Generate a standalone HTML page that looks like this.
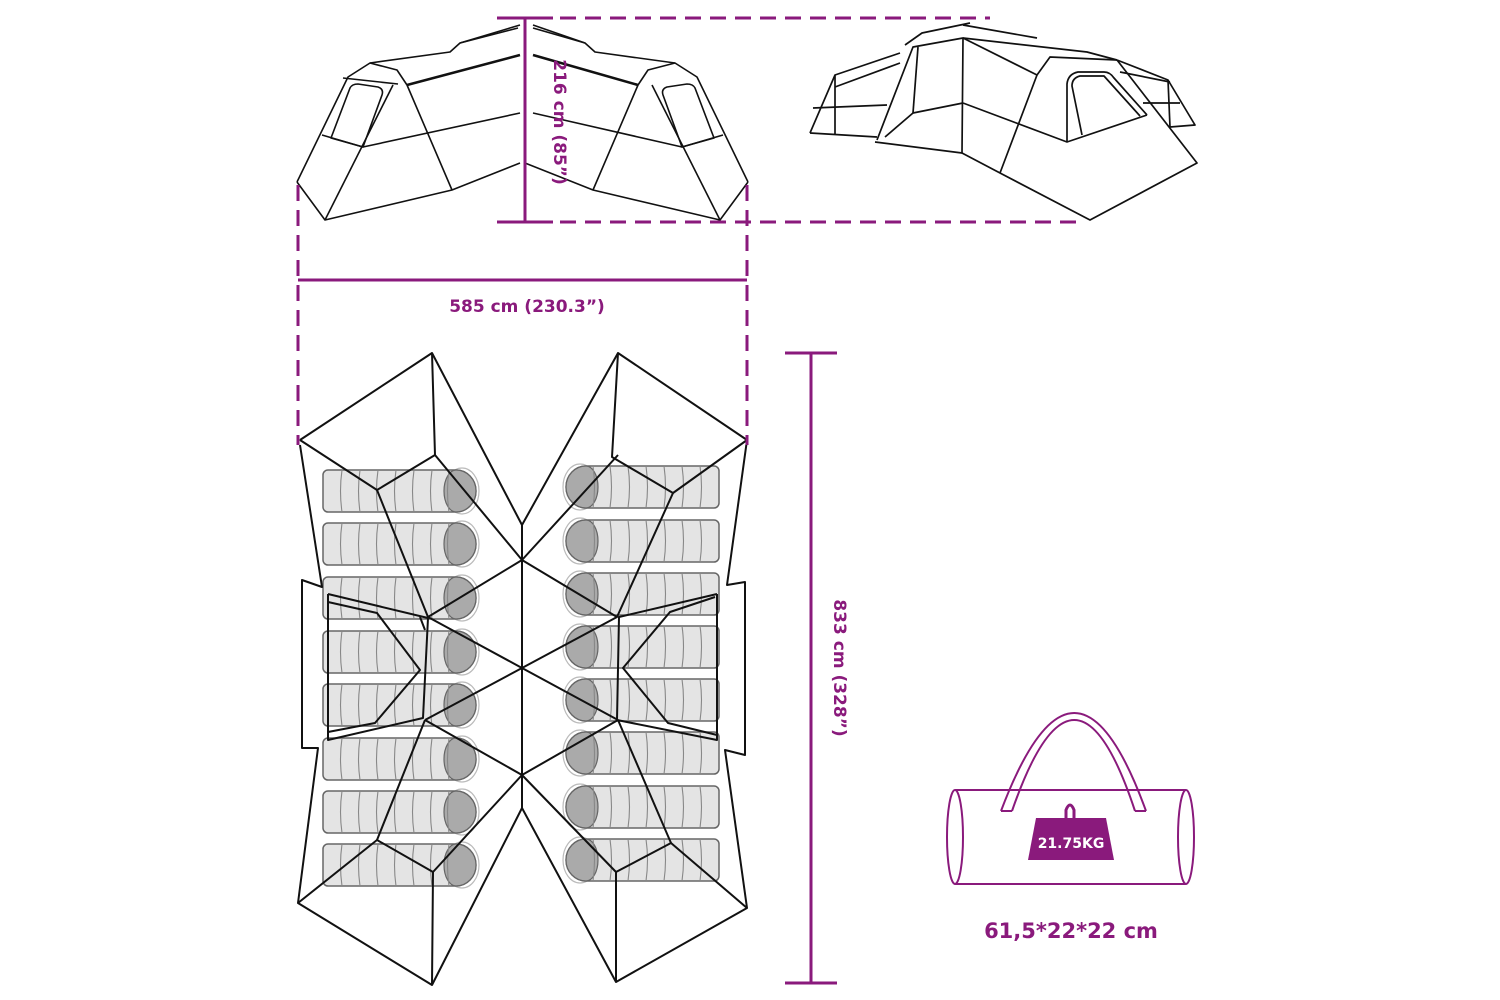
<!DOCTYPE html>
<html><head><meta charset="utf-8"><style>
html,body{margin:0;padding:0;background:#fff;}
svg{display:block;}
.t{font-family:"DejaVu Sans","Liberation Sans",sans-serif;font-weight:bold;fill:#8a1a7c;}
</style></head><body>
<svg width="1500" height="1000" viewBox="0 0 1500 1000" xmlns="http://www.w3.org/2000/svg">
<defs>
<g id="bag">
 <ellipse cx="140" cy="22" rx="17" ry="23" fill="none" stroke="#bbb" stroke-width="1.2"/>
 <path d="M6 1 H134 A20 21 0 0 1 134 43 H6 A5 5 0 0 1 1 38 V6 A5 5 0 0 1 6 1Z" fill="#e4e4e4" stroke="#666" stroke-width="1.5"/>
 <path d="M134 1 A20 21 0 0 1 134 43 A12 21 0 0 1 134 1Z" fill="#aaa" stroke="#666" stroke-width="1.2"/>
 <g stroke="#888" stroke-width="1.1" fill="none">
  <path d="M20 1 Q17 22 20 43 M38 1 Q35 22 38 43 M56 1 Q53 22 56 43 M74 1 Q71 22 74 43 M92 1 Q89 22 92 43 M110 1 Q107 22 110 43 M127 1 Q124 22 127 43"/>
 </g>
</g>
</defs>

<g>
<use href="#bag" x="322" y="469"/><use href="#bag" x="322" y="522"/><use href="#bag" x="322" y="576"/><use href="#bag" x="322" y="630"/>
<use href="#bag" x="322" y="683"/><use href="#bag" x="322" y="737"/><use href="#bag" x="322" y="790"/><use href="#bag" x="322" y="843"/>
</g>
<g transform="translate(1283,0) scale(-1,1)">
<use href="#bag" x="563" y="465"/><use href="#bag" x="563" y="519"/><use href="#bag" x="563" y="572"/><use href="#bag" x="563" y="625"/>
<use href="#bag" x="563" y="678"/><use href="#bag" x="563" y="731"/><use href="#bag" x="563" y="785"/><use href="#bag" x="563" y="838"/>
</g>

<g fill="none" stroke="#111" stroke-width="2" stroke-linejoin="round">
 <polyline points="300,440 432,353 522,525 618,353 747,440"/>
 <polyline points="300,445 322,587 302,580 302,748 318,748 298,903 432,985 522,808 616,982 747,908 725,750 745,755 745,582 727,585 747,440"/>
 <line x1="522" y1="525" x2="522" y2="808"/>
 <polyline points="300,440 377,490 435,455 432,353"/>
 <polyline points="435,455 522,560 618,455"/>
 <polyline points="377,490 428,617 522,560 617,617 673,493"/>
 <polyline points="747,440 673,493 612,457 618,353"/>
 <polyline points="428,617 522,668 618,720"/>
 <polyline points="425,720 522,668 617,617"/>
 <polyline points="425,720 522,775 618,720"/>
 <polyline points="298,903 377,840 433,872 432,985"/>
 <polyline points="377,840 425,720"/>
 <polyline points="433,872 522,775 616,872 616,982"/>
 <polyline points="747,908 671,843 616,872"/>
 <polyline points="671,843 618,720"/>
 <polyline points="328,594 328,740 423,718 428,618 328,594"/>
 <polyline points="328,602 377,613 420,670 375,723 328,732"/>
 <line x1="420" y1="617" x2="425" y2="630"/>
 <polyline points="717,594 717,740 617,720 619,617 717,594"/>
 <polyline points="715,597 670,612 623,668 668,723 717,735"/>
</g>

<g fill="none" stroke="#111" stroke-width="1.6" stroke-linejoin="round">
 <g>
 <polyline points="297,182 325,220 452,190 520,163"/>
 <polyline points="297,182 348,77 370,63 397,70 407,85 452,190"/>
 <polyline points="370,63 450,52 460,43 520,25"/>
 <line x1="407" y1="85" x2="520" y2="55" stroke-width="2.6"/>
 <polyline points="393,85 325,220"/>
 <polyline points="322,135 363,147 520,113"/>
 <path d="M350 88 Q352 84 358 84 L378 87 Q384 89 382 95 L363 147 L331 138 Z"/>
 <line x1="343" y1="78" x2="398" y2="84"/>
 <line x1="460" y1="43" x2="518" y2="28"/>
 </g>
 <g transform="translate(1045,0) scale(-1,1)">
 <polyline points="297,182 325,220 452,190 520,163"/>
 <polyline points="297,182 348,77 370,63 397,70 407,85 452,190"/>
 <polyline points="370,63 450,52 460,43 512,25"/>
 <line x1="407" y1="85" x2="512" y2="55" stroke-width="2.6"/>
 <polyline points="393,85 325,220"/>
 <polyline points="322,135 363,147 512,113"/>
 <path d="M350 88 Q352 84 358 84 L378 87 Q384 89 382 95 L363 147 L331 138 Z"/>
 <line x1="460" y1="43" x2="512" y2="28"/>
 </g>
</g>

<g fill="none" stroke="#111" stroke-width="1.7" stroke-linejoin="round">
 <polyline points="810,133 835,75 900,53"/>
 <line x1="835" y1="75" x2="835" y2="135"/>
 <line x1="810" y1="133" x2="877" y2="137"/>
 <line x1="813" y1="108" x2="887" y2="105"/>
 <line x1="835" y1="87" x2="900" y2="63"/>
 <polyline points="875,142 962,153 963,38 913,47 877,140"/>
 <polyline points="885,137 913,113 963,103"/>
 <line x1="913" y1="113" x2="918" y2="47"/>
 <polyline points="963,25 1037,38"/>
 <polyline points="963,38 1087,52 1117,60"/>
 <polyline points="905,45 922,33 970,23"/>
 <polyline points="963,38 1037,75 1000,173"/>
 <polyline points="1037,75 1050,57 1117,60"/>
 <polyline points="963,103 1067,142 1147,115"/>
 <polyline points="962,153 1000,173 1090,220 1197,163 1117,60"/>
 <path d="M1067 142 L1067 84 Q1068 74 1078 72 L1104 72 Q1110 72 1114 78 L1147 115"/>
 <path d="M1082 135 L1072 86 Q1072 78 1080 76 L1104 76 L1140 116"/>
 <polyline points="1117,60 1168,80 1195,125 1170,127"/>
 <line x1="1168" y1="80" x2="1170" y2="127"/>
 <line x1="1120" y1="72" x2="1170" y2="82"/>
 <line x1="1143" y1="103" x2="1180" y2="103"/>
</g>

<g stroke="#8a1a7c" stroke-width="3" fill="none">
 <line x1="525" y1="18" x2="525" y2="222"/>
 <line x1="497" y1="18" x2="553" y2="18"/>
 <line x1="497" y1="222" x2="553" y2="222"/>
 <line x1="560" y1="18" x2="990" y2="18" stroke-dasharray="16,9"/>
 <line x1="560" y1="222" x2="1082" y2="222" stroke-dasharray="16,9"/>
 <line x1="298" y1="185" x2="298" y2="445" stroke-dasharray="16,9"/>
 <line x1="747" y1="185" x2="747" y2="445" stroke-dasharray="16,9"/>
 <line x1="298" y1="280" x2="747" y2="280"/>
 <line x1="811" y1="353" x2="811" y2="983"/>
 <line x1="785" y1="353" x2="837" y2="353"/>
 <line x1="785" y1="983" x2="837" y2="983"/>
</g>
<text class="t" x="527" y="312" font-size="17" text-anchor="middle">585 cm (230.3”)</text>
<text class="t" font-size="17" text-anchor="middle" transform="translate(554,122) rotate(90)">216 cm (85”)</text>
<text class="t" font-size="17" text-anchor="middle" transform="translate(834,668) rotate(90)">833 cm (328”)</text>

<g stroke="#8a1a7c" stroke-width="2" fill="none">
 <line x1="955" y1="790" x2="1186" y2="790"/>
 <line x1="955" y1="884" x2="1186" y2="884"/>
 <ellipse cx="955" cy="837" rx="8" ry="47" fill="#fff"/>
 <ellipse cx="1186" cy="837" rx="8" ry="47"/>
 <path d="M1001 811 Q1075 615 1146 811"/>
 <path d="M1012 811 Q1075 629 1135 811"/>
 <line x1="1001" y1="811" x2="1012" y2="811"/>
 <line x1="1135" y1="811" x2="1146" y2="811"/>
 <path d="M1066 818 L1066 810 Q1070 800 1074 810 L1074 818" stroke-width="3"/>
</g>
<polygon points="1036,818 1106,818 1114,860 1028,860" fill="#8a1a7c"/>
<text x="1071" y="848" font-family="DejaVu Sans,Liberation Sans,sans-serif" font-weight="bold" font-size="14" fill="#fff" text-anchor="middle">21.75KG</text>
<text class="t" x="1071" y="938" font-size="21" text-anchor="middle">61,5*22*22 cm</text>
</svg>
</body></html>
